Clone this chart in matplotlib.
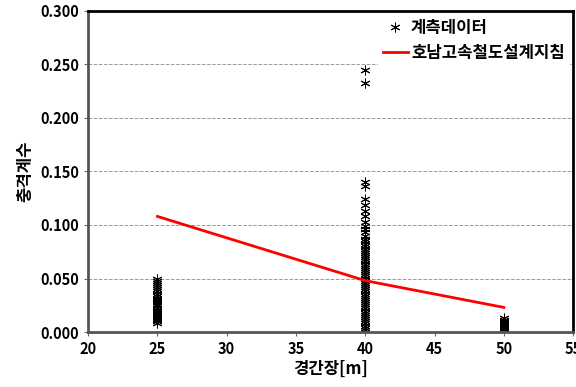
import matplotlib.pyplot as plt
import numpy as np

plt.rcParams['font.family'] = ['Noto Sans CJK KR', 'DejaVu Sans']

# measured data (span, impact factor)
y_25 = [0.050, 0.048, 0.046, 0.044, 0.042, 0.040, 0.038, 0.036, 0.034, 0.032,
        0.031, 0.029, 0.028, 0.026, 0.025, 0.024, 0.022, 0.021, 0.020, 0.019,
        0.018, 0.017, 0.016, 0.015, 0.014, 0.013, 0.012, 0.011, 0.010, 0.008]
y_40 = [0.245, 0.233, 0.140, 0.136, 0.124, 0.119, 0.113, 0.108, 0.103, 0.099,
        0.096, 0.093, 0.090, 0.087, 0.085, 0.082, 0.080, 0.078, 0.076, 0.074,
        0.072, 0.070, 0.068, 0.066, 0.064, 0.062, 0.060, 0.058, 0.056, 0.054,
        0.052, 0.050, 0.048, 0.046, 0.044, 0.042, 0.040, 0.038, 0.036, 0.034,
        0.032, 0.030, 0.028, 0.026, 0.024, 0.022, 0.020, 0.018, 0.016, 0.014,
        0.012, 0.010, 0.008, 0.006, 0.004, 0.002, 0.000]
y_50 = [0.013, 0.011, 0.010, 0.009, 0.008, 0.007, 0.006, 0.005, 0.004, 0.003, 0.002]

# design guideline line
guide_x = [25, 40, 50]
guide_y = [0.108, 0.048, 0.023]

fig = plt.figure(figsize=(5.76, 3.87), dpi=100)
ax = fig.add_axes([0.153, 0.142, 0.842, 0.830])

mx = [25] * len(y_25) + [40] * len(y_40) + [50] * len(y_50)
my = y_25 + y_40 + y_50
ax.plot(mx, my, linestyle='none', marker=(6, 2, 0), markersize=7,
        markeredgewidth=0.7, color='black', label='계측데이터')
ax.plot(guide_x, guide_y, color='#ff0000', linewidth=2, label='호남고속철도설계지침')

ax.set_xlim(20, 55)
ax.set_ylim(0, 0.3)
ax.set_xticks(np.arange(20, 56, 5))
ax.set_yticks(np.arange(0, 0.301, 0.05))
ax.set_yticklabels([f'{v:.3f}' for v in np.arange(0, 0.301, 0.05)])
ax.grid(axis='y', linestyle='--', color='#999999', linewidth=0.7)
ax.set_axisbelow(True)

for lab in ax.get_xticklabels() + ax.get_yticklabels():
    lab.set_fontweight('bold')
    lab.set_fontsize(10.5)
ax.tick_params(direction='out', length=3, color='#666666')

for s in ['left', 'bottom']:
    ax.spines[s].set_color('#555555')
    ax.spines[s].set_linewidth(2)
for s in ['top', 'right']:
    ax.spines[s].set_color('black')
    ax.spines[s].set_linewidth(2)

ax.set_xlabel('경간장[m]', fontweight='bold', fontsize=12, labelpad=2)
ax.set_ylabel('충격계수', fontweight='bold', fontsize=12, labelpad=4)

leg = ax.legend(loc='upper right', frameon=True, fancybox=False, edgecolor='none',
                framealpha=1, prop={'weight': 'bold', 'size': 12},
                handlelength=1.5, handletextpad=0.2, labelspacing=0.4,
                borderaxespad=0.2, borderpad=0.3)

fig.savefig('out.png', dpi=100)
